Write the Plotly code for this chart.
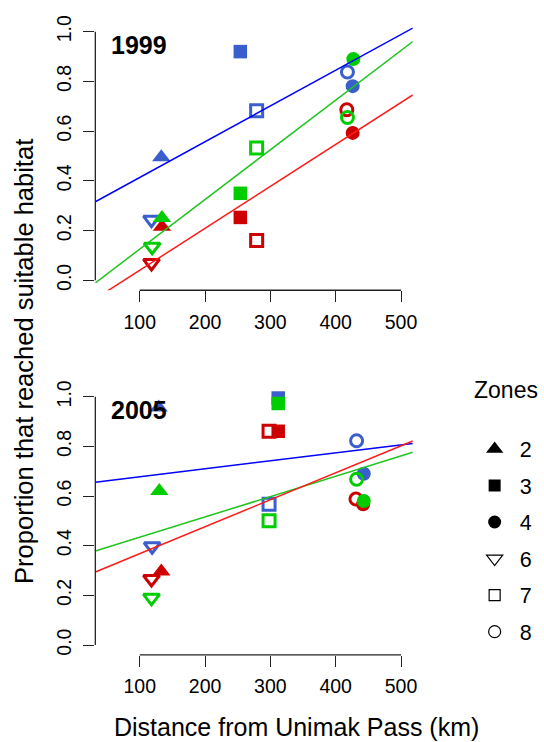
import numpy as np
import plotly.graph_objects as go

# ---------------- data ----------------
zones = ["2", "3", "4", "6", "7", "8"]
zone_symbols = ["triangle-up", "square", "circle", "triangle-down-open", "square-open", "circle-open"]

# 1999 (x = distance km, y = proportion), ordered by zone 2,3,4,6,7,8
x99_blue = [133, 254, 426, 118, 279, 418]
y99_blue = [0.495, 0.920, 0.781, 0.244, 0.682, 0.838]
x99_green = [134, 254, 427, 119, 279, 418]
y99_green = [0.251, 0.350, 0.890, 0.135, 0.532, 0.655]
x99_red = [134, 254, 426, 118, 279, 417]
y99_red = [0.215, 0.253, 0.593, 0.070, 0.160, 0.686]

# 2005
x05_blue = [129, 312, 443, 119, 298, 432]
y05_blue = [0.957, 0.995, 0.690, 0.398, 0.567, 0.823]
x05_green = [130, 312, 443, 118, 298, 432]
y05_green = [0.620, 0.973, 0.580, 0.190, 0.501, 0.668]
x05_red = [133, 312, 442, 118, 298, 431]
y05_red = [0.296, 0.861, 0.567, 0.266, 0.861, 0.588]

years = ["1999", "2005"]
point_colors = {"blue": "#3A5FCD", "green": "#00CD00", "red": "#CD0000"}
line_colors = {"blue": "#0000FF", "green": "#1FC41F", "red": "#FF1A1A"}

XRANGE = [32, 518]
YRANGE = [-0.04, 1.04]
FONT = "Liberation Sans, Arial, Helvetica, sans-serif"

W, H = 544, 742
xdom = [96.2 / W, 416.6 / W]
ydom_top = [1 - 286.35 / H, 1 - 14.95 / H]
ydom_bot = [1 - 655.0 / H, 1 - 384.0 / H]

fig = go.Figure()

panels = [
    ("x", "y", {"blue": (x99_blue, y99_blue), "red": (x99_red, y99_red), "green": (x99_green, y99_green)}),
    ("x2", "y2", {"blue": (x05_blue, y05_blue), "red": (x05_red, y05_red), "green": (x05_green, y05_green)}),
]

sizes = [16, 13.5, 14, 14, 12, 12]
lws = [0, 0, 0, 3, 3, 3]

for xa, ya, groups in panels:
    for c in ["blue", "red", "green"]:
        xs, ys = groups[c]
        fig.add_trace(go.Scatter(
            x=xs, y=ys, mode="markers", xaxis=xa, yaxis=ya, showlegend=False,
            marker=dict(symbol=zone_symbols, color=point_colors[c], size=sizes, opacity=1,
                        line=dict(width=lws, color=point_colors[c])),
            cliponaxis=False,
        ))
    for c in ["blue", "green", "red"]:
        xs, ys = groups[c]
        slope, icpt = np.polyfit(np.array(xs, float), np.array(ys, float), 1)
        lx = np.array(XRANGE, float)
        fig.add_trace(go.Scatter(
            x=lx, y=icpt + slope * lx, mode="lines", xaxis=xa, yaxis=ya, showlegend=False,
            line=dict(color=line_colors[c], width=1.5),
        ))

# legend entries (black symbols)
leg_sizes = [15, 12, 13, 14, 11, 12]
for i, (z, s) in enumerate(zip(zones, zone_symbols)):
    fig.add_trace(go.Scatter(
        x=[None], y=[None], mode="markers", name=z, legendgroup=z,
        marker=dict(symbol=s, color="black", size=leg_sizes[i], opacity=1,
                    line=dict(width=1.2 if "open" in s else 0, color="black")),
    ))

axis_common = dict(showgrid=False, zeroline=False, showline=False, ticks="outside",
                   ticklen=11, tickwidth=1.3, tickcolor="#222",
                   tickfont=dict(family=FONT, size=19.5, color="black"))

xt = dict(axis_common, range=XRANGE, tickvals=[100, 200, 300, 400, 500], domain=xdom,
          ticklabelstandoff=3)
yt = dict(axis_common, range=YRANGE, tickvals=[0, 0.2, 0.4, 0.6, 0.8, 1.0],
          ticktext=["0.0", "0.2", "0.4", "0.6", "0.8", "1.0"], tickangle=-90,
          ticklabelstandoff=5)

fig.update_layout(
    width=W, height=H,
    margin=dict(l=0, r=0, t=0, b=0),
    paper_bgcolor="white", plot_bgcolor="white",
    font=dict(family=FONT, color="black"),
    xaxis=dict(xt, anchor="y"),
    yaxis=dict(yt, domain=ydom_top, anchor="x"),
    xaxis2=dict(xt, anchor="y2"),
    yaxis2=dict(yt, domain=ydom_bot, anchor="x2"),
    legend=dict(x=474 / W, y=1 - 426 / H, xanchor="left", yanchor="top",
                font=dict(size=21.5, family=FONT), bgcolor="rgba(0,0,0,0)",
                tracegroupgap=5.6, itemsizing="trace", itemwidth=40),
    shapes=[
        dict(type="line", xref="x", yref="y domain", x0=100, x1=500, y0=0, y1=0, line=dict(color="#222", width=1.3)),
        dict(type="line", xref="x domain", yref="y", x0=0, x1=0, y0=0, y1=1, line=dict(color="#222", width=1.3)),
        dict(type="line", xref="x2", yref="y2 domain", x0=100, x1=500, y0=0, y1=0, line=dict(color="#222", width=1.3)),
        dict(type="line", xref="x2 domain", yref="y2", x0=0, x1=0, y0=0, y1=1, line=dict(color="#222", width=1.3)),
    ],
    annotations=[
        dict(text="<b>1999</b>", xref="paper", yref="paper", x=110 / W, y=1 - 38 / H,
             xanchor="left", yanchor="middle", showarrow=False, font=dict(size=25, family=FONT)),
        dict(text="<b>2005</b>", xref="paper", yref="paper", x=110 / W, y=1 - 407 / H,
             xanchor="left", yanchor="middle", showarrow=False, font=dict(size=25, family=FONT)),
        dict(text="Zones", xref="paper", yref="paper", x=511 / W, y=1 - 387 / H,
             xanchor="center", yanchor="middle", showarrow=False, font=dict(size=23, family=FONT)),
        dict(text="Distance from Unimak Pass (km)", xref="paper", yref="paper", x=299 / W, y=1 - 728 / H,
             xanchor="center", yanchor="middle", showarrow=False, font=dict(size=25, family=FONT)),
        dict(text="Proportion that reached suitable habitat", xref="paper", yref="paper", x=24 / W, y=1 - 358 / H,
             xanchor="center", yanchor="middle", showarrow=False, textangle=-90, font=dict(size=25.5, family=FONT)),
    ],
)

fig.write_html("out.html")
